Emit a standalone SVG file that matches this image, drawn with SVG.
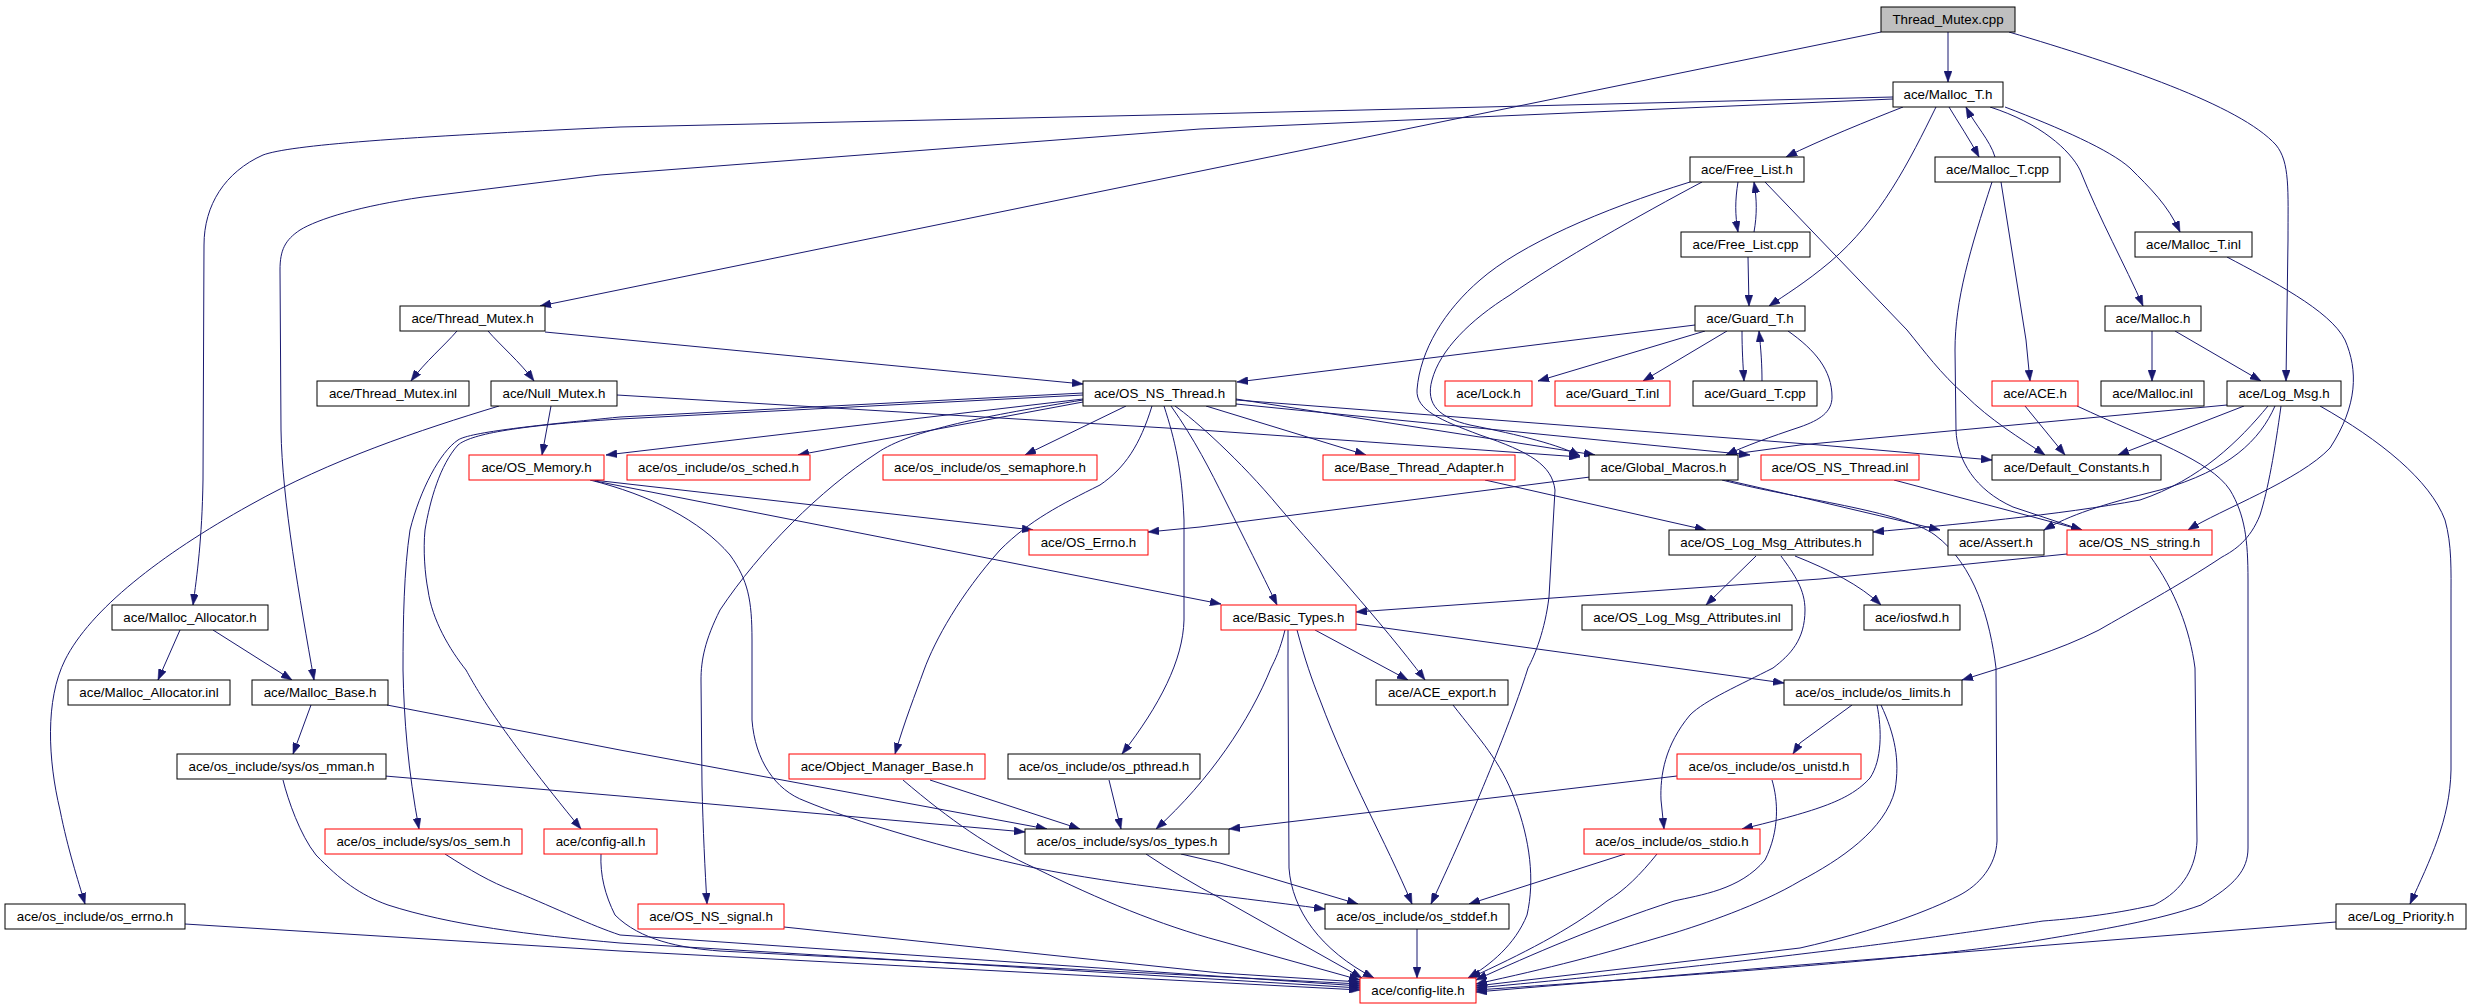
<svg xmlns="http://www.w3.org/2000/svg" width="2469" height="1008" viewBox="0 0 2469 1008">
<style>
.nd rect{fill:#ffffff;stroke:#000000;stroke-width:1}
.nd.red rect{stroke:#ff0000}
.nd.root rect{fill:#bfbfbf}
.nd text{font-family:"Liberation Sans",Arial,Helvetica,sans-serif;font-size:13.33px;fill:#000000;text-anchor:middle}
#edges path{fill:none;stroke:#191970;stroke-width:1;marker-end:url(#arr)}
</style>
<defs>
<marker id="arr" markerUnits="userSpaceOnUse" markerWidth="11" markerHeight="8" refX="11" refY="4" orient="auto">
<path d="M0,0 L11,4 L0,8 z" fill="#191970" stroke="#191970" stroke-width="0.5"/>
</marker>
</defs>
<rect x="0" y="0" width="2469" height="1008" fill="#ffffff"/>
<g id="edges">
<path d="M1948,32 L1948,82"/>
<path d="M1881,32 L540,306"/>
<path d="M2009,32 C2120,65 2240,105 2276,145 C2290,162 2288,190 2288,240 L2286,381"/>
<path d="M1903,107 C1870,120 1820,140 1786,157"/>
<path d="M1949,107 C1958,122 1970,140 1979,157"/>
<path d="M1995,157 C1990,140 1975,125 1966,107"/>
<path d="M1936,107 C1910,160 1880,220 1830,262 C1805,283 1785,295 1769,306"/>
<path d="M1990,107 C2040,123 2070,150 2080,170 C2100,220 2125,265 2143,306"/>
<path d="M2005,107 C2060,128 2110,150 2130,168 C2150,188 2168,205 2180,232"/>
<path d="M1893,97 L1200,114 L620,127 C400,137 290,145 263,155 C225,172 204,205 204,245 L203,480 C202,540 197,575 193,605"/>
<path d="M1893,99 L1200,129 L600,175 L423,197 C360,206 318,219 300,230 C285,240 280,250 280,270 L281,430 C282,500 300,600 314,680"/>
<path d="M2001,182 L2026,340 L2030,381"/>
<path d="M1992,182 C1970,250 1955,300 1955,350 L1956,430 C1957,460 1975,490 2013,507 L2082,530"/>
<path d="M2227,257 C2270,280 2330,310 2345,340 C2358,370 2358,405 2330,448 C2300,480 2220,510 2188,530"/>
<path d="M2152,331 L2152,381"/>
<path d="M2175,331 L2261,381"/>
<path d="M1738,182 C1735,200 1735,215 1738,232"/>
<path d="M1754,232 C1757,215 1757,200 1754,182"/>
<path d="M1748,257 L1749,306"/>
<path d="M1765,182 L1907,330 C1925,352 1940,373 1965,395 C1990,420 2020,438 2045,455"/>
<path d="M1702,182 C1640,215 1560,260 1510,295 C1470,320 1440,350 1432,380 C1425,405 1440,418 1470,425 C1520,435 1560,445 1580,456"/>
<path d="M1690,182 C1600,210 1520,245 1480,280 C1445,310 1420,350 1417,390 C1416,410 1440,420 1480,435 C1530,452 1552,465 1555,490 L1549,597 C1545,630 1535,655 1528,668 C1515,710 1480,800 1431,904"/>
<path d="M1695,325 L1237,382"/>
<path d="M1705,331 L1538,381"/>
<path d="M1727,331 L1643,381"/>
<path d="M1742,331 C1742,350 1743,365 1744,381"/>
<path d="M1762,381 C1762,365 1761,350 1759,331"/>
<path d="M1788,331 C1815,350 1832,370 1832,397 C1832,412 1820,420 1800,427 C1770,437 1745,446 1726,455"/>
<path d="M457,331 C445,345 425,362 411,381"/>
<path d="M488,331 C500,345 520,362 534,381"/>
<path d="M545,332 L1083,384"/>
<path d="M551,406 L542,455"/>
<path d="M617,395 L1200,430 L1580,457"/>
<path d="M499,406 C420,430 330,460 250,505 C160,555 90,610 65,660 C45,700 48,760 60,810 C68,850 78,880 85,904"/>
<path d="M1083,399 L606,455"/>
<path d="M1083,402 L798,455"/>
<path d="M1126,406 L1025,455"/>
<path d="M1083,393 L620,417 C540,425 470,432 458,440 C440,452 420,490 410,530 C404,570 403,620 403,670 C404,720 408,770 419,829"/>
<path d="M1083,395 L620,419 C510,426 470,435 458,445 C440,465 430,500 425,530 C423,550 425,575 428,590 C432,620 450,650 466,670 C480,695 500,730 581,829"/>
<path d="M1083,400 C990,415 910,430 877,453 C820,490 760,550 720,610 C705,640 701,660 701,680 L702,785 C703,830 705,870 707,904"/>
<path d="M1152,406 C1140,445 1125,468 1100,485 C1060,505 1030,520 1000,550 C960,595 935,640 924,670 C915,695 905,720 895,754"/>
<path d="M1164,406 C1175,440 1182,470 1184,520 L1184,620 C1183,660 1160,705 1122,754"/>
<path d="M1171,406 C1195,440 1210,470 1225,500 C1250,550 1265,580 1277,605"/>
<path d="M1175,406 C1195,420 1240,460 1279,507 C1320,555 1380,620 1425,680"/>
<path d="M1206,406 L1366,455"/>
<path d="M1236,399 L1595,455"/>
<path d="M1236,404 L1750,455"/>
<path d="M1236,400 L1820,445 L1992,460"/>
<path d="M1590,477 L1200,527 L1148,532"/>
<path d="M1726,480 L1800,497 L1940,530"/>
<path d="M1722,480 C1800,500 1900,510 1935,535 C1975,565 1990,620 1996,668 L1997,841 C1996,865 1980,885 1958,896 C1930,910 1880,930 1800,948 L1476,986"/>
<path d="M593,480 L1033,530"/>
<path d="M595,481 L1221,604"/>
<path d="M590,480 C650,495 700,520 730,555 C748,580 752,600 752,640 L752,720 C755,760 775,790 805,801 C850,820 950,850 1035,868 C1120,885 1220,895 1325,909"/>
<path d="M1485,480 L1706,530"/>
<path d="M1894,480 L2082,530"/>
<path d="M2025,406 L2065,455"/>
<path d="M2077,406 C2150,440 2210,460 2230,490 C2245,515 2248,540 2248,580 L2248,848 C2248,870 2235,885 2201,905 C2160,920 2100,930 2040,940 C1950,955 1800,968 1476,990"/>
<path d="M2227,405 L1800,445 L1726,455"/>
<path d="M2244,406 L2118,455"/>
<path d="M2268,406 C2240,440 2200,480 2140,500 C2060,515 1950,525 1873,532"/>
<path d="M2275,406 C2260,440 2230,470 2160,490 C2100,505 2070,515 2044,530"/>
<path d="M2281,406 C2275,450 2268,490 2260,515 C2250,540 2235,550 2222,557 C2180,585 2130,612 2099,630 C2060,650 2010,665 1962,680"/>
<path d="M2320,406 C2380,440 2430,480 2445,520 C2452,545 2451,570 2451,600 L2451,770 C2450,820 2430,860 2410,904"/>
<path d="M1756,556 L1706,605"/>
<path d="M1795,556 C1830,570 1860,585 1881,605"/>
<path d="M1781,556 C1795,575 1805,590 1805,610 C1805,640 1790,655 1773,668 C1740,685 1705,700 1690,715 C1665,745 1660,775 1661,800 L1664,829"/>
<path d="M2067,554 L1820,579 L1356,612"/>
<path d="M2150,556 C2175,590 2190,630 2195,668 L2197,841 C2196,865 2185,890 2154,905 C2110,915 2070,919 2043,921 C1950,935 1800,958 1476,988"/>
<path d="M180,630 L158,680"/>
<path d="M213,630 L292,680"/>
<path d="M311,705 L293,754"/>
<path d="M387,705 L620,750 L1047,829"/>
<path d="M1315,630 L1408,680"/>
<path d="M1356,624 L1784,683"/>
<path d="M1285,630 C1280,650 1275,660 1271,668 C1250,720 1210,780 1156,829"/>
<path d="M1297,630 C1305,660 1312,680 1320,700 C1350,780 1385,840 1412,904"/>
<path d="M1288,630 L1288,668 L1289,868 C1292,910 1320,950 1374,978"/>
<path d="M1453,705 C1480,740 1500,760 1515,800 C1530,840 1535,880 1527,915 C1515,945 1490,965 1468,978"/>
<path d="M1852,705 L1800,743 L1793,754"/>
<path d="M1877,705 C1882,730 1882,760 1870,778 C1850,800 1820,810 1742,829"/>
<path d="M1881,705 C1895,735 1900,760 1895,790 C1885,830 1840,860 1800,881 C1760,905 1700,925 1674,933 C1600,955 1550,968 1476,984"/>
<path d="M1677,776 L1229,829"/>
<path d="M1772,780 C1778,800 1780,830 1765,860 C1740,890 1700,895 1674,901 C1600,925 1530,955 1476,980"/>
<path d="M1625,854 L1469,904"/>
<path d="M1657,854 C1640,875 1625,890 1607,901 C1570,930 1520,955 1470,978"/>
<path d="M385,776 L620,796 L1025,832"/>
<path d="M283,780 C288,800 300,835 316,855 C340,880 360,895 388,905 C450,925 530,935 620,943 L1360,988"/>
<path d="M930,780 L1080,829"/>
<path d="M903,780 C950,820 990,848 1035,868 C1100,900 1160,925 1220,941 L1360,980"/>
<path d="M1109,780 L1121,829"/>
<path d="M445,854 C470,870 490,882 514,891 C560,910 590,925 620,935 L1360,986"/>
<path d="M601,854 C600,875 605,895 615,915 C640,940 680,948 720,951 L1360,984"/>
<path d="M1181,854 L1220,863 L1358,904"/>
<path d="M1146,854 C1170,870 1195,885 1220,898 L1362,978"/>
<path d="M185,924 L620,951 L1360,990"/>
<path d="M784,927 L1220,973 L1360,982"/>
<path d="M1417,929 L1417,978"/>
<path d="M2336,922 L1800,965 L1476,992"/>
</g>
<g id="n_thread_mutex_cpp" class="nd root"><rect x="1881" y="7" width="134" height="25"/><text x="1948" y="24">Thread_Mutex.cpp</text></g>
<g id="n_malloc_t_h" class="nd"><rect x="1893" y="82" width="110" height="25"/><text x="1948" y="99">ace/Malloc_T.h</text></g>
<g id="n_free_list_h" class="nd"><rect x="1690" y="157" width="114" height="25"/><text x="1747" y="174">ace/Free_List.h</text></g>
<g id="n_malloc_t_cpp" class="nd"><rect x="1935" y="157" width="125" height="25"/><text x="1997.5" y="174">ace/Malloc_T.cpp</text></g>
<g id="n_free_list_cpp" class="nd"><rect x="1681" y="232" width="129" height="25"/><text x="1745.5" y="249">ace/Free_List.cpp</text></g>
<g id="n_malloc_t_inl" class="nd"><rect x="2135" y="232" width="117" height="25"/><text x="2193.5" y="249">ace/Malloc_T.inl</text></g>
<g id="n_thread_mutex_h" class="nd"><rect x="400" y="306" width="145" height="25"/><text x="472.5" y="323">ace/Thread_Mutex.h</text></g>
<g id="n_guard_t_h" class="nd"><rect x="1695" y="306" width="110" height="25"/><text x="1750" y="323">ace/Guard_T.h</text></g>
<g id="n_malloc_h" class="nd"><rect x="2105" y="306" width="96" height="25"/><text x="2153" y="323">ace/Malloc.h</text></g>
<g id="n_thread_mutex_inl" class="nd"><rect x="317" y="381" width="152" height="25"/><text x="393" y="398">ace/Thread_Mutex.inl</text></g>
<g id="n_null_mutex_h" class="nd"><rect x="491" y="381" width="126" height="25"/><text x="554" y="398">ace/Null_Mutex.h</text></g>
<g id="n_os_ns_thread_h" class="nd"><rect x="1083" y="381" width="153" height="25"/><text x="1159.5" y="398">ace/OS_NS_Thread.h</text></g>
<g id="n_lock_h" class="nd red"><rect x="1445" y="381" width="87" height="25"/><text x="1488.5" y="398">ace/Lock.h</text></g>
<g id="n_guard_t_inl" class="nd red"><rect x="1555" y="381" width="115" height="25"/><text x="1612.5" y="398">ace/Guard_T.inl</text></g>
<g id="n_guard_t_cpp" class="nd"><rect x="1693" y="381" width="124" height="25"/><text x="1755" y="398">ace/Guard_T.cpp</text></g>
<g id="n_ace_h" class="nd red"><rect x="1992" y="381" width="86" height="25"/><text x="2035" y="398">ace/ACE.h</text></g>
<g id="n_malloc_inl" class="nd"><rect x="2101" y="381" width="103" height="25"/><text x="2152.5" y="398">ace/Malloc.inl</text></g>
<g id="n_log_msg_h" class="nd"><rect x="2227" y="381" width="114" height="25"/><text x="2284" y="398">ace/Log_Msg.h</text></g>
<g id="n_os_memory_h" class="nd red"><rect x="469" y="455" width="135" height="25"/><text x="536.5" y="472">ace/OS_Memory.h</text></g>
<g id="n_os_sched_h" class="nd red"><rect x="627" y="455" width="183" height="25"/><text x="718.5" y="472">ace/os_include/os_sched.h</text></g>
<g id="n_os_semaphore_h" class="nd red"><rect x="883" y="455" width="214" height="25"/><text x="990" y="472">ace/os_include/os_semaphore.h</text></g>
<g id="n_base_thread_adapter_h" class="nd red"><rect x="1323" y="455" width="192" height="25"/><text x="1419" y="472">ace/Base_Thread_Adapter.h</text></g>
<g id="n_global_macros_h" class="nd"><rect x="1589" y="455" width="149" height="25"/><text x="1663.5" y="472">ace/Global_Macros.h</text></g>
<g id="n_os_ns_thread_inl" class="nd red"><rect x="1761" y="455" width="158" height="25"/><text x="1840" y="472">ace/OS_NS_Thread.inl</text></g>
<g id="n_default_constants_h" class="nd"><rect x="1992" y="455" width="169" height="25"/><text x="2076.5" y="472">ace/Default_Constants.h</text></g>
<g id="n_os_errno_h" class="nd red"><rect x="1029" y="530" width="119" height="25"/><text x="1088.5" y="547">ace/OS_Errno.h</text></g>
<g id="n_os_log_msg_attributes_h" class="nd"><rect x="1669" y="530" width="204" height="25"/><text x="1771" y="547">ace/OS_Log_Msg_Attributes.h</text></g>
<g id="n_assert_h" class="nd"><rect x="1948" y="530" width="96" height="25"/><text x="1996" y="547">ace/Assert.h</text></g>
<g id="n_os_ns_string_h" class="nd red"><rect x="2067" y="530" width="145" height="25"/><text x="2139.5" y="547">ace/OS_NS_string.h</text></g>
<g id="n_malloc_allocator_h" class="nd"><rect x="112" y="605" width="156" height="25"/><text x="190" y="622">ace/Malloc_Allocator.h</text></g>
<g id="n_basic_types_h" class="nd red"><rect x="1221" y="605" width="135" height="25"/><text x="1288.5" y="622">ace/Basic_Types.h</text></g>
<g id="n_os_log_msg_attributes_inl" class="nd"><rect x="1582" y="605" width="210" height="25"/><text x="1687" y="622">ace/OS_Log_Msg_Attributes.inl</text></g>
<g id="n_iosfwd_h" class="nd"><rect x="1864" y="605" width="96" height="25"/><text x="1912" y="622">ace/iosfwd.h</text></g>
<g id="n_malloc_allocator_inl" class="nd"><rect x="68" y="680" width="162" height="25"/><text x="149" y="697">ace/Malloc_Allocator.inl</text></g>
<g id="n_malloc_base_h" class="nd"><rect x="252" y="680" width="136" height="25"/><text x="320" y="697">ace/Malloc_Base.h</text></g>
<g id="n_ace_export_h" class="nd"><rect x="1376" y="680" width="132" height="25"/><text x="1442" y="697">ace/ACE_export.h</text></g>
<g id="n_os_limits_h" class="nd"><rect x="1784" y="680" width="178" height="25"/><text x="1873" y="697">ace/os_include/os_limits.h</text></g>
<g id="n_os_mman_h" class="nd"><rect x="177" y="754" width="209" height="25"/><text x="281.5" y="771">ace/os_include/sys/os_mman.h</text></g>
<g id="n_object_manager_base_h" class="nd red"><rect x="789" y="754" width="196" height="25"/><text x="887" y="771">ace/Object_Manager_Base.h</text></g>
<g id="n_os_pthread_h" class="nd"><rect x="1008" y="754" width="192" height="25"/><text x="1104" y="771">ace/os_include/os_pthread.h</text></g>
<g id="n_os_unistd_h" class="nd red"><rect x="1677" y="754" width="184" height="25"/><text x="1769" y="771">ace/os_include/os_unistd.h</text></g>
<g id="n_os_sem_h" class="nd red"><rect x="325" y="829" width="197" height="25"/><text x="423.5" y="846">ace/os_include/sys/os_sem.h</text></g>
<g id="n_config_all_h" class="nd red"><rect x="544" y="829" width="113" height="25"/><text x="600.5" y="846">ace/config-all.h</text></g>
<g id="n_os_types_h" class="nd"><rect x="1025" y="829" width="204" height="25"/><text x="1127" y="846">ace/os_include/sys/os_types.h</text></g>
<g id="n_os_stdio_h" class="nd red"><rect x="1584" y="829" width="176" height="25"/><text x="1672" y="846">ace/os_include/os_stdio.h</text></g>
<g id="n_os_errno_inc_h" class="nd"><rect x="5" y="904" width="180" height="25"/><text x="95" y="921">ace/os_include/os_errno.h</text></g>
<g id="n_os_ns_signal_h" class="nd red"><rect x="638" y="904" width="146" height="25"/><text x="711" y="921">ace/OS_NS_signal.h</text></g>
<g id="n_os_stddef_h" class="nd"><rect x="1325" y="904" width="184" height="25"/><text x="1417" y="921">ace/os_include/os_stddef.h</text></g>
<g id="n_log_priority_h" class="nd"><rect x="2336" y="904" width="130" height="25"/><text x="2401" y="921">ace/Log_Priority.h</text></g>
<g id="n_config_lite_h" class="nd red"><rect x="1360" y="978" width="116" height="25"/><text x="1418" y="995">ace/config-lite.h</text></g>
</svg>
